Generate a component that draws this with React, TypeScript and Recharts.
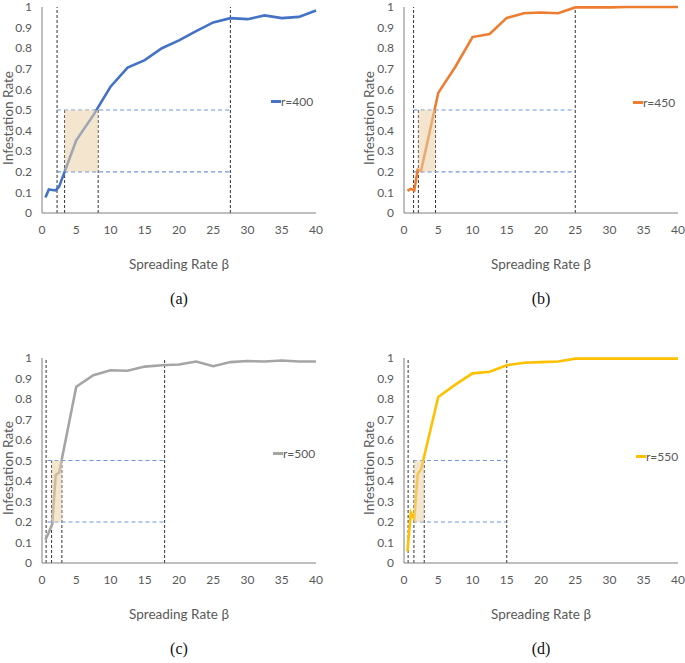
import React from "react";
import { LineChart, Line, XAxis, YAxis, ReferenceLine, ReferenceArea, Legend } from "recharts";

const betas = [0.5, 1, 1.5, 2, 2.5, 5, 7.5, 10, 12.5, 15, 17.5, 20, 22.5, 25, 27.5, 30, 32.5, 35, 37.5, 40];
const rate400 = [0.075, 0.114, 0.112, 0.11, 0.128, 0.353, 0.475, 0.613, 0.706, 0.742, 0.8, 0.838, 0.883, 0.925, 0.946, 0.941, 0.959, 0.946, 0.952, 0.983];
const rate450 = [0.108, 0.117, 0.11, 0.21, 0.206, 0.583, 0.71, 0.854, 0.869, 0.947, 0.97, 0.973, 0.97, 0.998, 0.998, 0.998, 1, 1, 1, 1];
const rate500 = [0.113, 0.15, 0.19, 0.43, 0.44, 0.86, 0.916, 0.94, 0.938, 0.958, 0.965, 0.968, 0.983, 0.96, 0.98, 0.985, 0.983, 0.988, 0.983, 0.983];
const rate550 = [0.057, 0.246, 0.215, 0.434, 0.457, 0.81, 0.87, 0.925, 0.933, 0.965, 0.977, 0.98, 0.983, 0.997, 0.997, 0.997, 0.997, 0.997, 0.997, 0.997];

const xTicks = [0, 5, 10, 15, 20, 25, 30, 35, 40];
const yTicks = [0, 0.1, 0.2, 0.3, 0.4, 0.5, 0.6, 0.7, 0.8, 0.9, 1];
const bandLow = 0.2;
const bandHigh = 0.5;

// [outer-left, outer-right] full-height verticals; [shade-left, shade-right] short verticals; horizontal start
const outerA = [2.2, 27.5];
const innerA = [3.3, 8.2];
const outerB = [1.4, 25];
const innerB = [2.1, 4.6];
const outerC = [0.6, 17.9];
const innerC = [1.4, 2.9];
const outerD = [0.6, 15];
const innerD = [1.45, 2.95];
const hStart = [2.2, 1.4, 0.8, 1.3];

const labels = ["r=400", "r=450", "r=500", "r=550"];
const colors = ["#4472c4", "#ed7d31", "#a5a5a5", "#ffc000"];
const captions = ["(a)", "(b)", "(c)", "(d)"];

const FONT = "Lato, 'Noto Sans', sans-serif";
const GREY = "#595959";

type PanelProps = {
  values: number[];
  outer: number[];
  inner: number[];
  h0: number;
  name: string;
  color: string;
  caption: string;
  px0: number;
  px1: number;
  py0: number;
  py1: number;
  yLabelX: number;
  legendX: number;
  legendY: number;
};

function Panel(p: PanelProps) {
  const data = betas.map((b, i) => ({ beta: b, v: p.values[i] }));
  const TOP = 7;
  const W = p.px1 - p.px0 + 40 + 10;
  const H = p.py1 - p.py0 + TOP + 45;
  const cx = (p.px0 + p.px1) / 2;
  const cy = (p.py0 + p.py1) / 2;
  const vDash = { stroke: "#333333", strokeDasharray: "3 2", strokeWidth: 1 };
  const hDash = { stroke: "#6f96db", strokeDasharray: "4 3", strokeWidth: 1.2 };
  return (
    <>
      <div style={{ position: "absolute", left: p.px0 - 40, top: p.py0 - TOP }}>
        <LineChart width={W} height={H} data={data} margin={{ top: TOP, right: 10, left: 0, bottom: 5 }}>
          <XAxis
            dataKey="beta"
            type="number"
            domain={[0, 40]}
            ticks={xTicks}
            interval={0}
            height={40}
            tickLine={false}
            tickSize={0}
            tickMargin={12}
            stroke="#7f7f7f"
            tick={{ fill: GREY, fontSize: 12, fontFamily: FONT }}
          />
          <YAxis
            type="number"
            domain={[0, 1]}
            ticks={yTicks}
            interval={0}
            width={40}
            tickLine={false}
            tickSize={0}
            tickMargin={10}
            stroke="#7f7f7f"
            tick={{ fill: GREY, fontSize: 12, fontFamily: FONT }}
            tickFormatter={(t: number) => String(Math.round(t * 10) / 10)}
          />
          <ReferenceLine segment={[{ x: p.outer[0], y: 0 }, { x: p.outer[0], y: 1 }]} {...vDash} />
          <ReferenceLine segment={[{ x: p.outer[1], y: 0 }, { x: p.outer[1], y: 1 }]} {...vDash} />
          <ReferenceLine segment={[{ x: p.inner[0], y: 0 }, { x: p.inner[0], y: bandHigh }]} {...vDash} />
          <ReferenceLine segment={[{ x: p.inner[1], y: 0 }, { x: p.inner[1], y: bandHigh }]} {...vDash} />
          <ReferenceLine segment={[{ x: p.h0, y: bandLow }, { x: p.outer[1], y: bandLow }]} {...hDash} />
          <ReferenceLine segment={[{ x: p.h0, y: bandHigh }, { x: p.outer[1], y: bandHigh }]} {...hDash} />
          <Line
            type="linear"
            dataKey="v"
            name={p.name}
            stroke={p.color}
            strokeWidth={2.6}
            dot={false}
            isAnimationActive={false}
          />
          <ReferenceArea
            x1={p.inner[0]}
            x2={p.inner[1]}
            y1={bandLow}
            y2={bandHigh}
            fill="#e9d0a6"
            fillOpacity={0.55}
            stroke="none"
            zIndex={450}
          />
          <Legend
            content={() => (
              <div style={{ display: "flex", alignItems: "center", fontFamily: FONT, fontSize: 12, color: GREY }}>
                <span style={{ display: "inline-block", width: 10, height: 3, background: p.color }} />
                <span>{p.name}</span>
              </div>
            )}
            wrapperStyle={{ position: "absolute", left: p.legendX - (p.px0 - 40), top: p.legendY - (p.py0 - TOP) - 8, width: "auto" }}
          />
        </LineChart>
      </div>
      <div
        style={{
          position: "absolute",
          left: p.yLabelX - 60,
          top: cy - 9,
          width: 120,
          textAlign: "center",
          transform: "rotate(-90deg)",
          fontFamily: FONT,
          fontSize: 13.5,
          color: GREY,
          lineHeight: "18px",
        }}
      >
        Infestation Rate
      </div>
      <div
        style={{
          position: "absolute",
          left: cx - 80,
          top: p.py1 + 27,
          width: 160,
          textAlign: "center",
          fontFamily: FONT,
          fontSize: 13.5,
          color: GREY,
          lineHeight: "18px",
        }}
      >
        Spreading Rate β
      </div>
      <div
        style={{
          position: "absolute",
          left: cx - 30,
          top: p.py1 + 61,
          width: 60,
          textAlign: "center",
          fontFamily: "'Liberation Serif', 'DejaVu Serif', serif",
          fontSize: 16,
          color: "#111",
          lineHeight: "20px",
        }}
      >
        {p.caption}
      </div>
    </>
  );
}

export default function App() {
  const panels = [
    { values: rate400, outer: outerA, inner: innerA, h0: hStart[0], px0: 42, px1: 316, py0: 7, py1: 228, yLabelX: 8, legendX: 271, legendY: 102 },
    { values: rate450, outer: outerB, inner: innerB, h0: hStart[1], px0: 404, px1: 678, py0: 7, py1: 228, yLabelX: 369, legendX: 633, legendY: 103 },
    { values: rate500, outer: outerC, inner: innerC, h0: hStart[2], px0: 42, px1: 316, py0: 358, py1: 578, yLabelX: 8, legendX: 273, legendY: 454 },
    { values: rate550, outer: outerD, inner: innerD, h0: hStart[3], px0: 404, px1: 678, py0: 358, py1: 578, yLabelX: 369, legendX: 636, legendY: 457 },
  ];
  return (
    <div style={{ position: "absolute", left: 0, top: 0, width: 685, height: 663, background: "#fff", overflow: "hidden" }}>
      {panels.map((p, i) => (
        <Panel key={i} {...p} name={labels[i]} color={colors[i]} caption={captions[i]} />
      ))}
    </div>
  );
}
